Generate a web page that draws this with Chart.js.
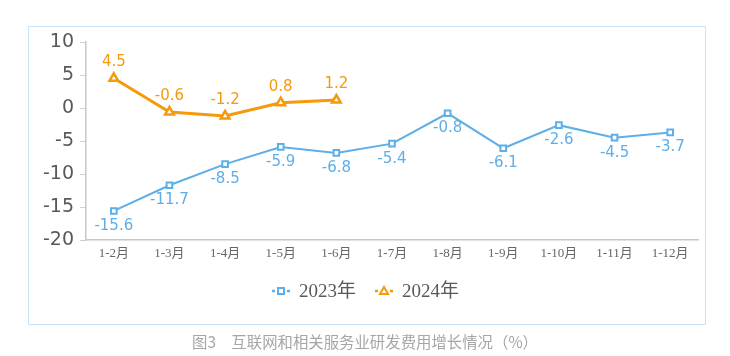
<!DOCTYPE html>
<html><head><meta charset="utf-8">
<script src="https://cdn.jsdelivr.net/npm/chart.js@4"></script>
<style>
html,body{margin:0;padding:0;background:#fff;}
#wrap{position:relative;width:730px;height:356px;}
#box{position:absolute;left:28px;top:26px;width:676px;height:297px;border:1px solid #c7e3f8;box-sizing:content-box;}
#c{position:absolute;left:0;top:0;}
#cap{position:absolute;left:0;top:330px;width:730px;text-align:center;font:15.4px "Noto Sans CJK SC",sans-serif;color:#a6a6a6;white-space:pre;}
</style></head>
<body><div id="wrap"><div id="box"></div><canvas id="c" width="730" height="356"></canvas><div id="cap">图3　互联网和相关服务业研发费用增长情况（%）</div></div>
<script>
const categories = ['1-2月','1-3月','1-4月','1-5月','1-6月','1-7月','1-8月','1-9月','1-10月','1-11月','1-12月'];
const series2023 = [-15.6,-11.7,-8.5,-5.9,-6.8,-5.4,-0.8,-6.1,-2.6,-4.5,-3.7];
const series2024 = [4.5,-0.6,-1.2,0.8,1.2];
const seriesNames = ['2023年','2024年'];
const yTicks = [10,5,0,-5,-10,-15,-20];

const BLUE = '#5eaee8', ORANGE = '#f59a0a';

const labelPlugin = {
  id:'vals',
  afterDatasetsDraw(chart){
    const ctx = chart.ctx;
    ctx.save();
    ctx.font = '15px "DejaVu Sans", Verdana, sans-serif';
    ctx.textAlign = 'center'; ctx.textBaseline = 'middle';
    chart.data.datasets.forEach((ds,i)=>{
      const meta = chart.getDatasetMeta(i);
      ctx.fillStyle = ds.borderColor;
      meta.data.forEach((pt,j)=>{
        const v = ds.data[j];
        const dy = i===0 ? 15 : -16;
        ctx.fillText(v.toFixed(1), pt.x, pt.y+dy);
      });
    });
    ctx.restore();
  },
  afterDraw(chart){
    const ctx = chart.ctx;
    ctx.save();
    ctx.font = '19px "Liberation Serif", "Noto Sans CJK SC", serif';
    ctx.textBaseline = 'middle';
    const y = 291;
    const items = [{x:281, c:BLUE, s:'rect', t:seriesNames[0]},{x:384, c:ORANGE, s:'tri', t:seriesNames[1]}];
    items.forEach(it=>{
      ctx.strokeStyle = it.c; ctx.lineWidth = 2.5;
      ctx.beginPath(); ctx.moveTo(it.x-9,y); ctx.lineTo(it.x-6,y); ctx.moveTo(it.x+6,y); ctx.lineTo(it.x+9,y); ctx.stroke();
      ctx.lineWidth = 2; ctx.fillStyle='#fff';
      if(it.s==='rect'){ ctx.fillRect(it.x-3,y-3,6,6); ctx.strokeRect(it.x-3,y-3,6,6); }
      else { ctx.beginPath(); ctx.moveTo(it.x,y-4); ctx.lineTo(it.x+4,y+3); ctx.lineTo(it.x-4,y+3); ctx.closePath(); ctx.fill(); ctx.stroke(); }
      ctx.fillStyle = '#595959';
      ctx.fillText(it.t, it.x+18, y+1);
    });
    ctx.restore();
  }
};

new Chart(document.getElementById('c'), {
  type:'line',
  data:{
    labels: categories,
    datasets:[
      {label:seriesNames[0], data:series2023, borderColor:BLUE, backgroundColor:'#fff', borderWidth:2,
       pointStyle:'rect', pointRadius:4, pointBorderWidth:2, pointBackgroundColor:'#fff', pointBorderColor:BLUE, tension:0},
      {label:seriesNames[1], data:series2024, borderColor:ORANGE, backgroundColor:'#fff', borderWidth:3,
       pointStyle:'triangle', pointRadius:5, pointBorderWidth:2.5, pointBackgroundColor:'#fff', pointBorderColor:ORANGE, tension:0}
    ]
  },
  options:{
    responsive:false, animation:false,
    layout:{padding:{left:30,top:42,right:32,bottom:86}},
    plugins:{legend:{display:false}, tooltip:{enabled:false}},
    scales:{
      x:{
        offset:true,
        afterFit(s){ s.height = 30; },
        grid:{display:true, drawOnChartArea:false, drawTicks:false, offset:true},
        border:{color:'#c8c8c8', width:1.5},
        ticks:{padding:6, color:'#666', font:{size:13, family:'"Liberation Serif","Noto Sans CJK SC",serif'}, maxRotation:0, autoSkip:false}
      },
      y:{
        min:-20, max:10,
        afterFit(s){ s.width = 56; },
        afterBuildTicks(s){ s.ticks = yTicks.map(v=>({value:v})); },
        grid:{drawOnChartArea:false, drawTicks:true, tickLength:6, color:'#d0d0d0'},
        border:{color:'#c8c8c8', width:1.5},
        ticks:{padding:6, color:'#595959', font:{size:19, family:'"DejaVu Sans", Verdana, sans-serif'}}
      }
    }
  },
  plugins:[labelPlugin]
});
</script></body></html>
